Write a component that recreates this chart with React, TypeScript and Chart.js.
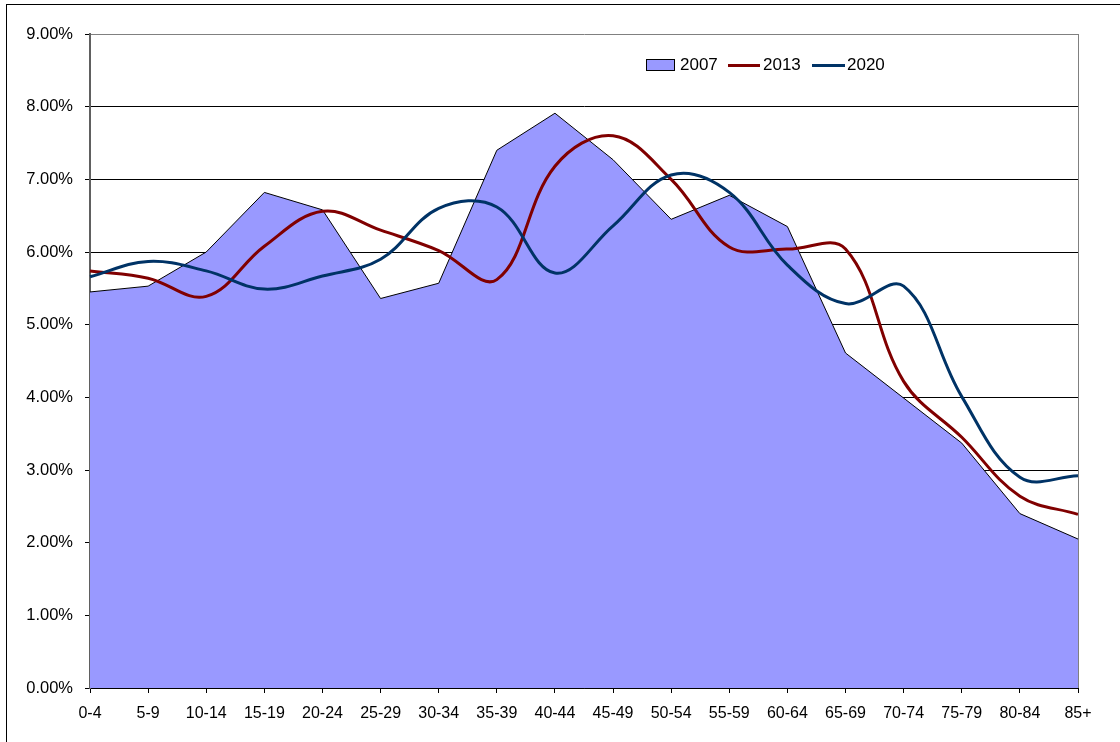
import React, { useEffect, useRef } from "react";
import { Chart, registerables } from "chart.js";

Chart.register(...registerables);

const categories = ["0-4", "5-9", "10-14", "15-19", "20-24", "25-29", "30-34", "35-39", "40-44", "45-49", "50-54", "55-59", "60-64", "65-69", "70-74", "75-79", "80-84", "85+"];
const series2007 = [5.45, 5.53, 6.0, 6.82, 6.58, 5.36, 5.57, 7.4, 7.91, 7.27, 6.45, 6.78, 6.35, 4.61, 3.99, 3.37, 2.4, 2.05];
const series2013 = [5.74, 5.64, 5.39, 6.08, 6.56, 6.3, 6.02, 5.62, 7.18, 7.6, 7.0, 6.07, 6.04, 6.04, 4.22, 3.45, 2.64, 2.39];
const series2020 = [5.66, 5.87, 5.74, 5.49, 5.67, 5.9, 6.6, 6.62, 5.71, 6.36, 7.06, 6.82, 5.82, 5.29, 5.53, 4.01, 2.9, 2.92];
const legendLabels = ["2007", "2013", "2020"];
const yMin = 0;
const yMax = 9;
const yStep = 1;

const FONT = "'Liberation Sans', Arial, sans-serif";
const C2007 = "#9999FF";
const C2013 = "#800000";
const C2020 = "#003366";

const rightBorder = {
  id: "rightBorder",
  afterDraw(chart: any) {
    const { ctx, chartArea } = chart;
    ctx.save();
    ctx.strokeStyle = "#808080";
    ctx.lineWidth = 1;
    ctx.beginPath();
    ctx.moveTo(Math.round(chartArea.right) + 0.5, chartArea.top);
    ctx.lineTo(Math.round(chartArea.right) + 0.5, chartArea.bottom);
    ctx.stroke();
    ctx.restore();
  },
};

export default function App() {
  const ref = useRef<HTMLCanvasElement | null>(null);

  useEffect(() => {
    if (!ref.current) return;
    const chart = new Chart(ref.current, {
      type: "line",
      data: {
        labels: categories,
        datasets: [
          {
            label: legendLabels[1],
            data: series2013,
            borderColor: C2013,
            borderWidth: 3,
            pointRadius: 0,
            tension: 0.38,
            fill: false,
            order: 1,
          },
          {
            label: legendLabels[2],
            data: series2020,
            borderColor: C2020,
            borderWidth: 3,
            pointRadius: 0,
            tension: 0.38,
            fill: false,
            order: 0,
          },
          {
            label: legendLabels[0],
            data: series2007,
            borderColor: "#000000",
            borderWidth: 1,
            backgroundColor: C2007,
            pointRadius: 0,
            tension: 0,
            fill: "origin",
            order: 5,
          },
        ],
      },
      options: {
        animation: false,
        responsive: false,
        devicePixelRatio: 1,
        layout: { padding: { top: 34, right: 42, left: 0, bottom: 0 } },
        plugins: {
          legend: { display: false },
          tooltip: { enabled: false },
        },
        scales: {
          x: {
            offset: false,
            grid: {
              drawOnChartArea: false,
              drawTicks: true,
              tickLength: 5,
              tickColor: "#000000",
            },
            border: { color: "#000000", width: 1 },
            ticks: {
              color: "#000000",
              font: { family: FONT, size: 16 },
              padding: 11,
              maxRotation: 0,
              minRotation: 0,
              autoSkip: false,
            },
            afterFit: (s: any) => {
              s.height = 54;
            },
          },
          y: {
            min: yMin,
            max: yMax,
            grid: {
              color: (c: any) => (c.tick && c.tick.value === yMax ? "#808080" : "#000000"),
              lineWidth: 1,
              tickLength: 5,
              tickColor: "#000000",
            },
            border: { color: "#606060", width: 2 },
            ticks: {
              stepSize: yStep,
              color: "#000000",
              font: { family: FONT, size: 16.5 },
              padding: 12,
              callback: (v: any) => Number(v).toFixed(2) + "%",
            },
            afterFit: (s: any) => {
              s.width = 90;
            },
          },
        },
      },
      plugins: [rightBorder],
    });
    return () => chart.destroy();
  }, []);

  const textStyle: React.CSSProperties = {
    position: "absolute",
    top: 55,
    fontFamily: FONT,
    fontSize: 17,
    lineHeight: "20px",
    color: "#000",
    whiteSpace: "nowrap",
  };

  return (
    <div
      style={{
        position: "fixed",
        left: 0,
        top: 0,
        width: 1120,
        height: 742,
        overflow: "hidden",
        background: "#ffffff",
      }}
    >
      <div
        style={{
          position: "absolute",
          left: 6,
          top: 4,
          width: 1200,
          height: 800,
          border: "1px solid #000",
          boxSizing: "border-box",
        }}
      />
      <canvas ref={ref} width={1120} height={742} style={{ position: "absolute", left: 0, top: 0 }} />
      <div
        style={{
          position: "absolute",
          left: 646,
          top: 59,
          width: 29,
          height: 12,
          background: C2007,
          border: "1px solid #000",
          boxSizing: "border-box",
        }}
      />
      <div style={{ ...textStyle, left: 680 }}>{legendLabels[0]}</div>
      <div style={{ position: "absolute", left: 728, top: 64, width: 32, height: 3, background: C2013 }} />
      <div style={{ ...textStyle, left: 763 }}>{legendLabels[1]}</div>
      <div style={{ position: "absolute", left: 812, top: 64, width: 33, height: 3, background: C2020 }} />
      <div style={{ ...textStyle, left: 847 }}>{legendLabels[2]}</div>
    </div>
  );
}
